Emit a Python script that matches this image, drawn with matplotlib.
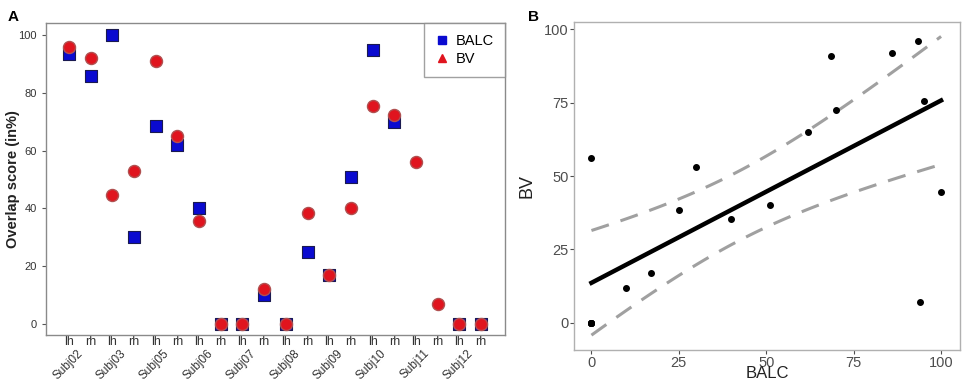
import numpy as np
import matplotlib.pyplot as plt
from matplotlib.lines import Line2D

plt.rcParams["font.family"] = ["Liberation Sans", "DejaVu Sans"]

# Panel A data: overlap scores (%) per subject/hemisphere
subjects = ["Subj02", "Subj03", "Subj05", "Subj06", "Subj07",
            "Subj08", "Subj09", "Subj10", "Subj11", "Subj12"]
hemis = ["lh", "rh"]
balc = [93.5, 86, 100, 30, 68.5, 62, 40, 0, 0, 10,
        0, 25, 17, 51, 95, 70, np.nan, np.nan, 0, 0]
bv = [96, 92, 44.5, 53, 91, 65, 35.5, 0, 0, 12,
      0, 38.5, 17, 40, 75.5, 72.5, 56, 7, 0, 0]

# Panel B data: BALC vs BV scatter
balc_b = [93.5, 86, 100, 30, 68.5, 62, 40, 0, 0, 10,
          0, 25, 17, 51, 95, 70, 0, 94, 0, 0]
bv_b = bv

fig = plt.figure(figsize=(9.64, 3.82), dpi=100)

# ---------------- Panel A ----------------
axA = fig.add_axes([0.0477, 0.123, 0.476, 0.817])
pos = np.arange(1, len(bv) + 1)
axA.scatter(pos, balc, marker="s", s=70, color="#0a0ad0",
            edgecolors="#1a1a50", linewidths=0.8, zorder=3)
axA.scatter(pos, bv, marker="o", s=75, color="#e0141e",
            edgecolors="#b05050", linewidths=1.0, zorder=4)
axA.set_xlim(-0.06, 21.1)
axA.set_ylim(-3.8, 104.2)
axA.set_yticks([0, 20, 40, 60, 80, 100])
axA.set_xticks(pos)
axA.set_xticklabels(hemis * len(subjects), fontsize=9, color="#333333")
axA.tick_params(axis="x", length=0, pad=1)
axA.tick_params(axis="y", length=3, labelsize=8, labelcolor="#333333",
                color="#555555")
for sp in axA.spines.values():
    sp.set_color("#8a8a8a")
    sp.set_linewidth(1.0)
axA.set_ylabel("Overlap score (in%)", fontsize=10.5, fontweight="bold",
               color="#222222", va="center")
axA.yaxis.set_label_coords(-0.072, 0.5)
trans = axA.get_xaxis_transform()
for i, s in enumerate(subjects):
    axA.text(2 * i + 1.75, -0.04, s, rotation=45, ha="right", va="top",
             fontsize=8.5, color="#333333", transform=trans)

handles = [Line2D([], [], marker="s", color="#0a0ad0", linestyle="none",
                  markersize=6),
           Line2D([], [], marker="^", color="#e0141e", linestyle="none",
                  markersize=6)]
leg = axA.legend(handles, ["BALC", "BV"], loc="upper right",
                 bbox_to_anchor=(1.0, 1.0), borderaxespad=0.0, fontsize=10.5,
                 frameon=True, fancybox=False, handletextpad=0.5,
                 borderpad=0.75, handlelength=0.9, labelspacing=0.3)
leg.get_frame().set_edgecolor("#8a8a8a")
leg.get_frame().set_linewidth(1.0)

# ---------------- Panel B ----------------
axB = fig.add_axes([0.5954, 0.0838, 0.4004, 0.8586])
x = np.array(balc_b, dtype=float)
y = np.array(bv_b, dtype=float)
n = len(x)
slope, intercept = np.polyfit(x, y, 1)
resid = y - (slope * x + intercept)
s_err = np.sqrt(np.sum(resid**2) / (n - 2))
xx = np.linspace(0, 100, 100)
yy = slope * xx + intercept
t_val = 2.101  # t(0.975, df=18)
se = s_err * np.sqrt(1 / n + (xx - x.mean())**2 / np.sum((x - x.mean())**2))
axB.plot(xx, yy + t_val * se, color="#a0a0a0", lw=2.2, dashes=(6, 4))
axB.plot(xx, yy - t_val * se, color="#a0a0a0", lw=2.2, dashes=(6, 4))
axB.plot(xx, yy, color="black", lw=3.2)
axB.scatter(x, y, s=16, color="black", zorder=3)
axB.set_xlim(-5, 105.4)
axB.set_ylim(-9.2, 102.4)
axB.set_xticks([0, 25, 50, 75, 100])
axB.set_yticks([0, 25, 50, 75, 100])
axB.tick_params(length=3, labelsize=10.5, labelcolor="#4d4d4d",
                color="#4d4d4d", pad=1)
for sp in axB.spines.values():
    sp.set_color("#b0b0b0")
    sp.set_linewidth(1.0)
axB.set_xlabel("BALC", fontsize=12, color="#222222", va="center")
axB.xaxis.set_label_coords(0.5, -0.073)
axB.set_ylabel("BV", fontsize=13, color="#222222", va="center")
axB.yaxis.set_label_coords(-0.122, 0.5)

fig.text(0.008, 0.975, "A", fontsize=11, fontweight="bold", va="top")
fig.text(0.548, 0.975, "B", fontsize=11, fontweight="bold", va="top")

fig.savefig("out.png", dpi=100)
